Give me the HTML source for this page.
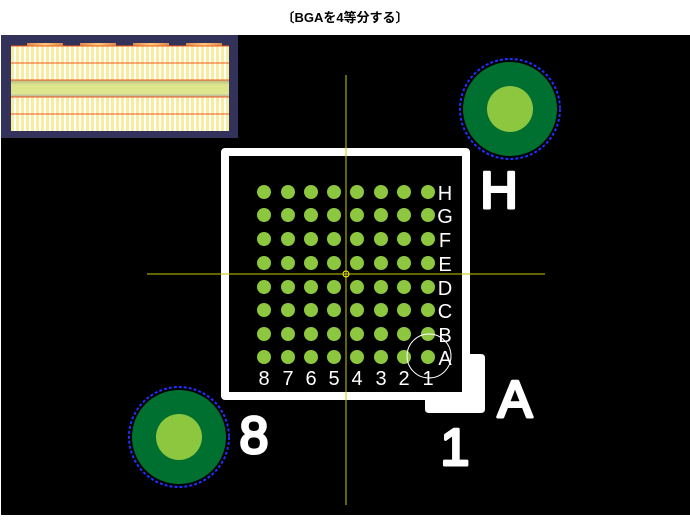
<!DOCTYPE html><html><head><style>body{margin:0;background:#fff;width:690px;height:515px;overflow:hidden;font-family:"Liberation Sans","Noto Sans CJK JP",sans-serif}</style></head><body>
<svg width="690" height="515" xmlns="http://www.w3.org/2000/svg">
<text x="345" y="22" text-anchor="middle" font-size="13" font-weight="bold" font-family="Liberation Sans,Noto Sans CJK JP,sans-serif">〔BGAを4等分する〕</text>
<rect x="1" y="35" width="689" height="480" fill="#000"/>
<rect x="1" y="35" width="237" height="103" fill="#33325a"/>
<defs><pattern id="p" width="5" height="10" patternUnits="userSpaceOnUse"><rect width="5" height="10" fill="#fff"/><rect x="1" width="3" height="10" fill="#f7ec9f"/></pattern>
<linearGradient id="g" x1="0" y1="0" x2="0" y2="1"><stop offset="0" stop-color="#b9b98a"/><stop offset=".3" stop-color="#dde68c"/><stop offset=".8" stop-color="#dde68c"/><stop offset="1" stop-color="#aaa"/></linearGradient>
<linearGradient id="c" x1="0" x2="1"><stop offset="0" stop-color="#d98a50"/><stop offset=".5" stop-color="#ffc878"/><stop offset="1" stop-color="#d98a50"/></linearGradient></defs>
<rect x="11" y="46" width="218" height="85" fill="url(#p)"/>
<rect x="11" y="80" width="218" height="17" fill="url(#g)"/>
<g fill="url(#c)"><rect x="27" y="43" width="36" height="3"/><rect x="80" y="43" width="36" height="3"/><rect x="133" y="43" width="36" height="3"/><rect x="186" y="43" width="36" height="3"/></g>
<g stroke="#f05a14" stroke-width="1"><line x1="11" y1="46" x2="229" y2="46"/><line x1="11" y1="63" x2="229" y2="63"/><line x1="11" y1="80" x2="229" y2="80"/><line x1="11" y1="97" x2="229" y2="97"/><line x1="11" y1="114" x2="229" y2="114"/></g>
<path d="M225 152 H466 V396 H225 Z" fill="none" stroke="#fff" stroke-width="8" stroke-linejoin="round"/>
<path d="M466 354 H481 Q485 354 485 358 V409 Q485 413 481 413 H429 Q425 413 425 409 V396 H466 Z" fill="#fff"/>
<g fill="#8dc63f">
<circle cx="264" cy="192" r="7"/><circle cx="288" cy="192" r="7"/><circle cx="311" cy="192" r="7"/><circle cx="334" cy="192" r="7"/><circle cx="357" cy="192" r="7"/><circle cx="381" cy="192" r="7"/><circle cx="404" cy="192" r="7"/><circle cx="428" cy="192" r="7"/>
<circle cx="264" cy="215" r="7"/><circle cx="288" cy="215" r="7"/><circle cx="311" cy="215" r="7"/><circle cx="334" cy="215" r="7"/><circle cx="357" cy="215" r="7"/><circle cx="381" cy="215" r="7"/><circle cx="404" cy="215" r="7"/><circle cx="428" cy="215" r="7"/>
<circle cx="264" cy="239" r="7"/><circle cx="288" cy="239" r="7"/><circle cx="311" cy="239" r="7"/><circle cx="334" cy="239" r="7"/><circle cx="357" cy="239" r="7"/><circle cx="381" cy="239" r="7"/><circle cx="404" cy="239" r="7"/><circle cx="428" cy="239" r="7"/>
<circle cx="264" cy="263" r="7"/><circle cx="288" cy="263" r="7"/><circle cx="311" cy="263" r="7"/><circle cx="334" cy="263" r="7"/><circle cx="357" cy="263" r="7"/><circle cx="381" cy="263" r="7"/><circle cx="404" cy="263" r="7"/><circle cx="428" cy="263" r="7"/>
<circle cx="264" cy="287" r="7"/><circle cx="288" cy="287" r="7"/><circle cx="311" cy="287" r="7"/><circle cx="334" cy="287" r="7"/><circle cx="357" cy="287" r="7"/><circle cx="381" cy="287" r="7"/><circle cx="404" cy="287" r="7"/><circle cx="428" cy="287" r="7"/>
<circle cx="264" cy="310" r="7"/><circle cx="288" cy="310" r="7"/><circle cx="311" cy="310" r="7"/><circle cx="334" cy="310" r="7"/><circle cx="357" cy="310" r="7"/><circle cx="381" cy="310" r="7"/><circle cx="404" cy="310" r="7"/><circle cx="428" cy="310" r="7"/>
<circle cx="264" cy="334" r="7"/><circle cx="288" cy="334" r="7"/><circle cx="311" cy="334" r="7"/><circle cx="334" cy="334" r="7"/><circle cx="357" cy="334" r="7"/><circle cx="381" cy="334" r="7"/><circle cx="404" cy="334" r="7"/><circle cx="428" cy="334" r="7"/>
<circle cx="264" cy="357" r="7"/><circle cx="288" cy="357" r="7"/><circle cx="311" cy="357" r="7"/><circle cx="334" cy="357" r="7"/><circle cx="357" cy="357" r="7"/><circle cx="381" cy="357" r="7"/><circle cx="404" cy="357" r="7"/><circle cx="428" cy="357" r="7"/>
</g>
<circle cx="429" cy="356" r="22" fill="none" stroke="#fff" stroke-width="1"/>
<g fill="#fff" font-size="20" text-anchor="middle">
<text x="445" y="200">H</text><text x="445" y="223">G</text><text x="445" y="247">F</text><text x="445" y="271">E</text><text x="445" y="295">D</text><text x="445" y="318">C</text><text x="445" y="342">B</text><text x="445" y="365">A</text>
<text x="264" y="385">8</text><text x="288" y="385">7</text><text x="311" y="385">6</text><text x="334" y="385">5</text><text x="357" y="385">4</text><text x="381" y="385">3</text><text x="404" y="385">2</text><text x="428" y="385">1</text>
</g>
<g stroke="#c8c800" stroke-width="1"><line x1="346" y1="75" x2="346" y2="505"/><line x1="147" y1="274" x2="545" y2="274"/></g>
<circle cx="346" cy="274" r="3" fill="none" stroke="#ff0" stroke-width="1"/>
<circle cx="510" cy="109" r="50" fill="none" stroke="#2030ff" stroke-width="2" stroke-dasharray="3 2"/>
<circle cx="510" cy="109" r="47" fill="#007030"/><circle cx="510" cy="109" r="23" fill="#8dc63f"/>
<circle cx="179" cy="437" r="50" fill="none" stroke="#2030ff" stroke-width="2" stroke-dasharray="3 2"/>
<circle cx="179" cy="437" r="47" fill="#007030"/><circle cx="179" cy="437" r="23" fill="#8dc63f"/>
<g fill="#fff" stroke="#fff" stroke-width="3" stroke-linejoin="round" font-size="52" text-anchor="middle">
<text x="499" y="208">H</text><text x="254" y="453">8</text><text x="515" y="417">A</text><text x="455" y="465">1</text>
</g>
</svg></body></html>
